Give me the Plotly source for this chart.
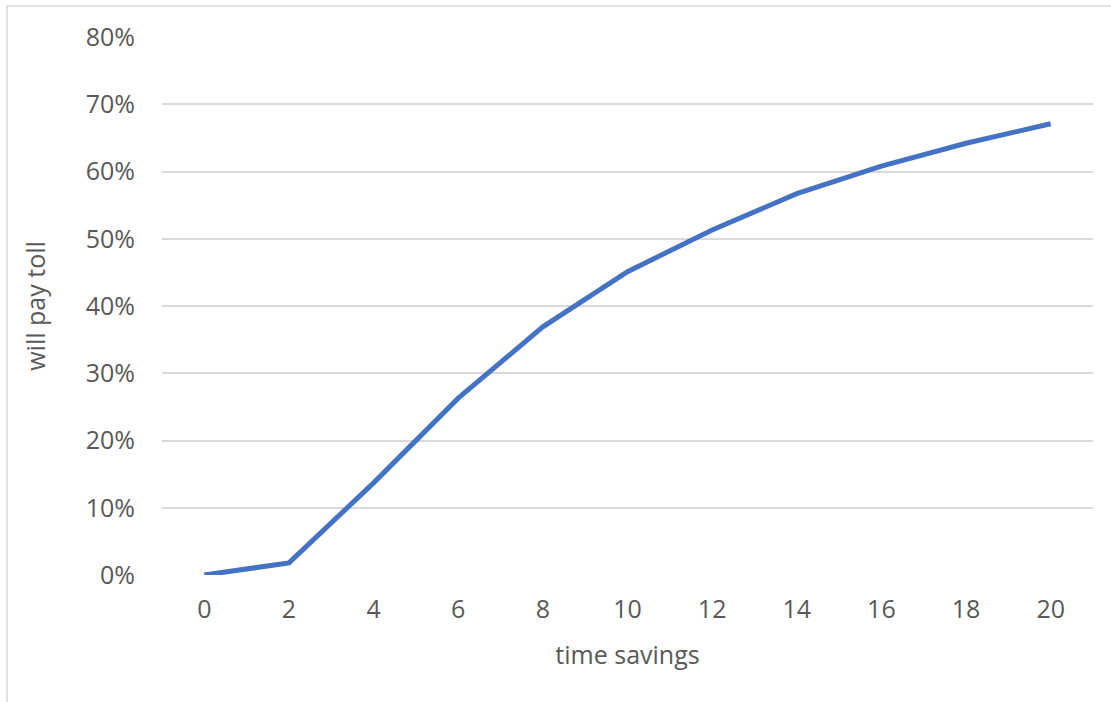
import plotly.graph_objects as go

# Share of drivers willing to pay a toll by minutes of time saved
time_savings = [0, 2, 4, 6, 8, 10, 12, 14, 16, 18, 20]
will_pay_toll = [0.0, 0.018, 0.137, 0.263, 0.369, 0.451, 0.513, 0.567, 0.608, 0.642, 0.671]

y_ticks = [0, 0.1, 0.2, 0.3, 0.4, 0.5, 0.6, 0.7, 0.8]

FONT = "Open Sans"
GRID = "#d9d9d9"
TEXT = "#595959"
SIZE = 25

fig = go.Figure(
    go.Scatter(
        x=time_savings,
        y=will_pay_toll,
        mode="lines",
        line=dict(color="#4472C4", width=5, shape="linear"),
        hoverinfo="x+y",
    )
)

fig.update_layout(
    width=1111,
    height=702,
    margin=dict(l=162, r=18, t=37, b=127),
    paper_bgcolor="white",
    plot_bgcolor="white",
    showlegend=False,
    font=dict(family=FONT, size=SIZE, color=TEXT),
    xaxis=dict(
        range=[-1, 21],
        tickmode="array",
        tickvals=time_savings,
        ticktext=[str(v) for v in time_savings],
        showgrid=False,
        zeroline=False,
        showline=False,
        ticks="",
        ticklabelstandoff=17,
        tickfont=dict(family=FONT, size=SIZE, color=TEXT),
        title=dict(text="time savings", font=dict(family=FONT, size=SIZE, color=TEXT), standoff=22),
        fixedrange=True,
    ),
    yaxis=dict(
        range=[0, 0.8],
        tickmode="array",
        tickvals=y_ticks,
        ticktext=[f"{round(v * 100)}%" for v in y_ticks],
        showgrid=True,
        gridcolor=GRID,
        gridwidth=1.6,
        zeroline=False,
        showline=False,
        ticks="",
        ticklabelstandoff=26,
        tickfont=dict(family=FONT, size=SIZE, color=TEXT),
        title=dict(text="will pay toll", font=dict(family=FONT, size=SIZE, color=TEXT), standoff=32),
        fixedrange=True,
    ),
    shapes=[
        # chart-area frame (left and top edges)
        dict(
            type="path",
            xref="paper",
            yref="paper",
            path="M -0.1665,-0.25 L -0.1665,1.0576 L 1.1,1.0576",
            line=dict(color=GRID, width=1.5),
            layer="below",
        ),
    ],
)

fig.write_html("out.html")
